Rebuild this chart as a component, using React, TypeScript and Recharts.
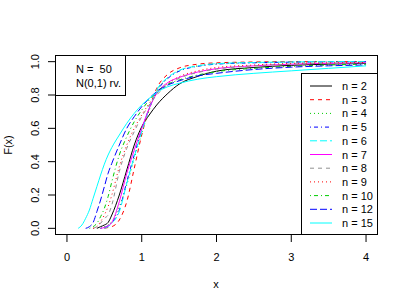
import React from "react";
import { LineChart, Line, XAxis, YAxis } from "recharts";

const xs = [0.15, 0.2, 0.25, 0.3, 0.35, 0.4, 0.45, 0.5, 0.55, 0.6, 0.7, 0.8, 0.9, 1.0, 1.1, 1.2, 1.35, 1.5, 1.75, 2.0, 2.5, 3.0, 3.5, 4.0];
const N = null;
const n2 = [N, N, N, N, N, 0, 0.01, 0.02, 0.035, 0.08, 0.2, 0.35, 0.5, 0.61, 0.68, 0.74, 0.81, 0.865, 0.912, 0.943, 0.965, 0.978, 0.985, 0.99];
const n3 = [N, N, N, N, N, N, N, 0, 0.005, 0.01, 0.05, 0.16, 0.36, 0.56, 0.72, 0.84, 0.925, 0.962, 0.985, 0.993, 0.998, 1, 1, 1];
const n4 = [N, N, N, N, N, N, 0, 0.01, 0.02, 0.04, 0.13, 0.26, 0.42, 0.57, 0.71, 0.82, 0.905, 0.947, 0.975, 0.987, 0.995, 0.998, 1, 1];
const n5 = [N, N, N, N, N, N, 0, 0.005, 0.015, 0.035, 0.11, 0.28, 0.44, 0.59, 0.72, 0.82, 0.9, 0.943, 0.972, 0.985, 0.993, 0.997, 0.999, 1];
const n6 = [N, N, N, N, N, N, N, 0, 0.01, 0.03, 0.1, 0.27, 0.43, 0.58, 0.72, 0.83, 0.905, 0.947, 0.975, 0.988, 0.995, 0.998, 1, 1];
const n7 = [N, N, N, N, N, N, 0, 0.005, 0.015, 0.035, 0.16, 0.33, 0.47, 0.6, 0.72, 0.81, 0.875, 0.905, 0.938, 0.958, 0.975, 0.985, 0.99, 0.993];
const n8 = [N, N, N, N, 0, 0.01, 0.03, 0.06, 0.08, 0.14, 0.34, 0.48, 0.58, 0.67, 0.74, 0.8, 0.86, 0.9, 0.935, 0.955, 0.975, 0.985, 0.99, 0.993];
const n9 = [N, N, N, N, 0, 0.01, 0.04, 0.08, 0.13, 0.2, 0.37, 0.5, 0.6, 0.68, 0.75, 0.81, 0.87, 0.91, 0.945, 0.965, 0.98, 0.99, 0.993, 0.995];
const n10 = [N, N, N, 0, 0.01, 0.03, 0.07, 0.12, 0.19, 0.28, 0.44, 0.55, 0.64, 0.71, 0.77, 0.82, 0.865, 0.89, 0.92, 0.94, 0.96, 0.972, 0.98, 0.985];
const n12 = [N, N, 0, 0.01, 0.035, 0.1, 0.17, 0.25, 0.33, 0.39, 0.5, 0.6, 0.67, 0.73, 0.78, 0.82, 0.86, 0.885, 0.915, 0.93, 0.953, 0.967, 0.975, 0.98];
const n15 = [0, 0.02, 0.06, 0.11, 0.18, 0.25, 0.32, 0.385, 0.44, 0.485, 0.56, 0.63, 0.69, 0.74, 0.78, 0.815, 0.85, 0.87, 0.895, 0.91, 0.93, 0.945, 0.96, 0.975];

const seriesNames = ["n = 2", "n = 3", "n = 4", "n = 5", "n = 6", "n = 7", "n = 8", "n = 9", "n = 10", "n = 12", "n = 15"];
const seriesValues = [n2, n3, n4, n5, n6, n7, n8, n9, n10, n12, n15];
const seriesColors = ["#000000", "#FF0000", "#00CD00", "#0000FF", "#00FFFF", "#FF00FF", "#909090", "#FF0000", "#00CD00", "#0000FF", "#00FFFF"];
const seriesDash = ["", "4 4", "1 3", "1 3 4 3", "7 3", "", "4 4", "1 3", "1 3 4 3", "7 3", ""];
const xTicks = [0, 1, 2, 3, 4];
const yTicks = [0, 0.2, 0.4, 0.6, 0.8, 1.0];

const data = xs.map((x, i) => {
  const row: Record<string, number | null> = { x };
  seriesValues.forEach((vals, k) => {
    row["s" + k] = vals[i];
  });
  return row;
});

const FONT = "'Liberation Sans', Arial, Helvetica, sans-serif";

const XTick = (props: any) => {
  const { x, payload } = props;
  return (
    <text x={x} y={261} textAnchor="middle" fontSize={11} fontFamily={FONT} fill="#000">
      {String(payload.value)}
    </text>
  );
};

const YTick = (props: any) => {
  const { y, payload } = props;
  return (
    <text x={39} y={y} transform={`rotate(-90, 39, ${y})`} textAnchor="middle" fontSize={11} fontFamily={FONT} fill="#000">
      {Number(payload.value).toFixed(1)}
    </text>
  );
};

export default function App() {
  const legendTop = 86;
  const legendStep = 13.7;
  return (
    <div style={{ position: "absolute", left: 0, top: 0, width: 407, height: 305, background: "#fff" }}>
      <LineChart width={407} height={305} data={data} margin={{ top: 55, right: 29, bottom: 0, left: 0 }}>
        <XAxis
          dataKey="x"
          type="number"
          domain={[-0.16, 4.16]}
          ticks={xTicks}
          allowDataOverflow
          axisLine={false}
          tickLine={{ stroke: "#000" }}
          tickSize={7}
          height={70}
          tick={<XTick />}
          interval={0}
        />
        <YAxis
          type="number"
          domain={[-0.04, 1.04]}
          ticks={yTicks}
          allowDataOverflow
          axisLine={false}
          tickLine={{ stroke: "#000" }}
          tickSize={7}
          width={55}
          tick={<YTick />}
          interval={0}
        />
        {seriesValues.map((_, k) => (
          <Line
            key={k}
            dataKey={"s" + k}
            type="monotone"
            stroke={seriesColors[k]}
            strokeWidth={1}
            strokeDasharray={seriesDash[k] || undefined}
            dot={false}
            activeDot={false}
            isAnimationActive={false}
            connectNulls={false}
          />
        ))}
      </LineChart>
      <svg width={407} height={305} style={{ position: "absolute", left: 0, top: 0, pointerEvents: "none" }}>
        <rect x={55.5} y={55.5} width={322} height={179} fill="none" stroke="#000" strokeWidth={1} />
        <text x={216} y={288} textAnchor="middle" fontSize={11} fontFamily={FONT} fill="#000">x</text>
        <text x={12} y={145} transform="rotate(-90, 12, 145)" textAnchor="middle" fontSize={11} fontFamily={FONT} fill="#000">F(x)</text>
        <rect x={55.5} y={55.5} width={70} height={40} fill="#fff" stroke="#000" strokeWidth={1} />
        <text x={76} y={73} fontSize={11} fontFamily={FONT} fill="#000" style={{ whiteSpace: "pre" }}>{"N =  50"}</text>
        <text x={76} y={87} fontSize={11} fontFamily={FONT} fill="#000">N(0,1) rv.</text>
        <rect x={301.5} y={73.5} width={76} height={161} fill="#fff" stroke="#000" strokeWidth={1} />
        {seriesNames.map((name, k) => {
          const cy = legendTop + k * legendStep;
          return (
            <g key={name}>
              <line x1={310} x2={332} y1={cy} y2={cy} stroke={seriesColors[k]} strokeWidth={1} strokeDasharray={seriesDash[k] || undefined} />
              <text x={342} y={cy + 4} fontSize={11} fontFamily={FONT} fill="#000">{name}</text>
            </g>
          );
        })}
      </svg>
    </div>
  );
}
